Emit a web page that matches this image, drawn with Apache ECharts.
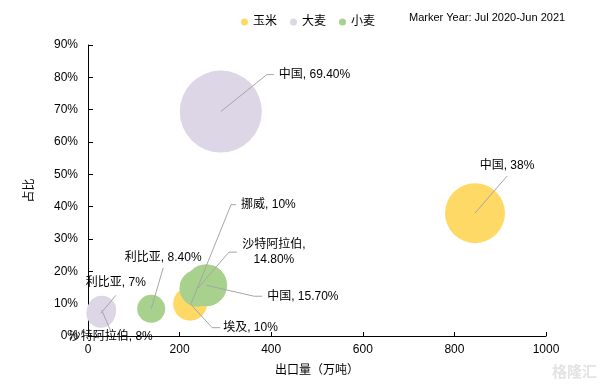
<!DOCTYPE html>
<html>
<head>
<meta charset="utf-8">
<script src="https://cdn.jsdelivr.net/npm/echarts@6/dist/echarts.min.js"></script>
<style>html,body{margin:0;padding:0;background:#fff}#c{width:605px;height:385px}</style>
</head>
<body>
<div id="c"></div>
<script>
// ---- data ----
const seriesNames = ['玉米', '大麦', '小麦'];
const cornNames = ['中国', '埃及'];
const cornExport = [845, 223];
const cornShare = [38, 10];
const cornWeight = [60, 34];
const cornLabels = ['中国, 38%', '埃及, 10%'];

const barleyNames = ['中国', '利比亚', '沙特阿拉伯'];
const barleyExport = [290, 28, 30];
const barleyShare = [69.4, 7, 8];
const barleyWeight = [82, 29, 29];
const barleyLabels = ['中国, 69.40%', '利比亚, 7%', '沙特阿拉伯, 8%'];

const wheatNames = ['利比亚', '中国', '沙特阿拉伯', '挪威'];
const wheatExport = [138, 258, 240, 225];
const wheatShare = [8.4, 15.7, 14.8, 10];
const wheatWeight = [28, 42, 37, 0];
const wheatLabels = ['利比亚, 8.40%', '中国, 15.70%', '沙特阿拉伯,\n14.80%', '挪威, 10%'];

const xTicks = [0, 200, 400, 600, 800, 1000];
const yTicks = [0, 10, 20, 30, 40, 50, 60, 70, 80, 90];
const xAxisName = '出口量（万吨）';
const yAxisName = '占比';
const noteText = 'Marker Year: Jul 2020-Jun 2021';

// ---- styling / layout (pixel offsets for leader lines and labels) ----
const colors = ['#FFD966', '#DDD6E6', '#A9D18E'];
const FONT = '12px "Liberation Sans", Arial, "Noto Sans CJK SC", sans-serif';
// dx,dy: elbow of leader line; h: horizontal tail; tx,ty: text offset from line end; align, vAlign
const labelLayouts = {
  '玉米': [
    {dx: 32, dy: -37, h: 0, tx: 0, ty: -3, align: 'center', v: 'bottom'},
    {dx: 22, dy: 24, h: 8, tx: 3, ty: 0, align: 'left', v: 'middle'}
  ],
  '大麦': [
    {dx: 46, dy: -37, h: 7, tx: 5, ty: 0, align: 'left', v: 'middle'},
    {dx: 15, dy: -18, h: 0, tx: 0, ty: -5, align: 'center', v: 'bottom'},
    {dx: 9, dy: 21, h: 0, tx: 0, ty: -2, align: 'center', v: 'top'}
  ],
  '小麦': [
    {dx: 12, dy: -41, h: 0, tx: 0, ty: -3, align: 'center', v: 'bottom'},
    {dx: 48, dy: 11, h: 8, tx: 5, ty: 0, align: 'left', v: 'middle'},
    {dx: 31, dy: -36, h: 8, tx: 37, ty: 0, align: 'center', v: 'middle'},
    {dx: 40, dy: -99, h: 5, tx: 5, ty: 0, align: 'left', v: 'middle'}
  ]
};

function buildData(xs, ys, ws, names, labels) {
  return xs.map((x, i) => ({name: names[i], value: [x, ys[i], ws[i]], labelText: labels[i]}));
}
const seriesData = {
  '玉米': buildData(cornExport, cornShare, cornWeight, cornNames, cornLabels),
  '大麦': buildData(barleyExport, barleyShare, barleyWeight, barleyNames, barleyLabels),
  '小麦': buildData(wheatExport, wheatShare, wheatWeight, wheatNames, wheatLabels)
};

function makeRender(sName) {
  return function (params, api) {
    const p = api.coord([api.value(0), api.value(1)]);
    const r = api.value(2) / 2;
    const color = api.visual('color');
    const item = seriesData[sName][params.dataIndex];
    const L = labelLayouts[sName][params.dataIndex];
    const children = [];
    if (r > 0) {
      children.push({type: 'circle', shape: {cx: p[0], cy: p[1], r: r}, style: {fill: color}, z2: 1});
    }
    const ex = p[0] + L.dx, ey = p[1] + L.dy;
    const pts = [[p[0], p[1]], [ex, ey]];
    if (L.h) pts.push([ex + L.h, ey]);
    children.push({type: 'polyline', shape: {points: pts}, style: {stroke: '#A6A6A6', lineWidth: 1, fill: null}, z2: 10});
    children.push({
      type: 'text', x: ex + L.h + L.tx, y: ey + L.ty, z2: 20,
      style: {text: item.labelText, font: FONT, fill: '#000', align: L.align, verticalAlign: L.v, lineHeight: 15}
    });
    return {type: 'group', children: children};
  };
}

const chart = echarts.init(document.getElementById('c'), null, {renderer: 'canvas'});
chart.setOption({
  animation: false,
  color: colors,
  textStyle: {fontFamily: '"Liberation Sans", Arial, "Noto Sans CJK SC", sans-serif'},
  legend: {
    data: seriesNames, left: 236, top: 11, icon: 'circle', itemWidth: 7, itemHeight: 7, itemGap: 13,
    textStyle: {fontSize: 12, color: '#000'}
  },
  graphic: [
    {type: 'text', left: 409, top: 12, style: {text: noteText, font: '11px "Liberation Sans", Arial, sans-serif', fill: '#000'}},
    {type: 'text', right: 8, bottom: 6, style: {text: '格隆汇', font: 'bold 15px "Noto Sans CJK SC", sans-serif', fill: '#E3E3E3'}}
  ],
  grid: {left: 88, right: 59, top: 45, bottom: 49},
  xAxis: {
    type: 'value', min: xTicks[0], max: xTicks[xTicks.length - 1], interval: xTicks[1] - xTicks[0],
    name: xAxisName, nameLocation: 'middle', nameGap: 29,
    nameTextStyle: {fontSize: 12, color: '#000'},
    axisLine: {show: true, lineStyle: {color: '#000', width: 1}},
    axisTick: {show: true, inside: true, length: 4, lineStyle: {color: '#000'}},
    axisLabel: {fontSize: 12, color: '#000', margin: 8, formatter: v => String(v)},
    splitLine: {show: false}
  },
  yAxis: {
    type: 'value', min: yTicks[0], max: yTicks[yTicks.length - 1], interval: yTicks[1] - yTicks[0],
    name: yAxisName, nameLocation: 'middle', nameGap: 52, nameRotate: 90,
    nameTextStyle: {fontSize: 12, color: '#000'},
    axisLine: {show: true, lineStyle: {color: '#000', width: 1}},
    axisTick: {show: true, inside: true, length: 5, lineStyle: {color: '#000'}},
    axisLabel: {fontSize: 12, color: '#000', margin: 10, formatter: '{value}%'},
    splitLine: {show: false}
  },
  series: seriesNames.map((n, i) => ({
    name: n, type: 'custom', itemStyle: {color: colors[i]},
    renderItem: makeRender(n),
    encode: {x: 0, y: 1},
    data: seriesData[n]
  }))
});
</script>
</body>
</html>
